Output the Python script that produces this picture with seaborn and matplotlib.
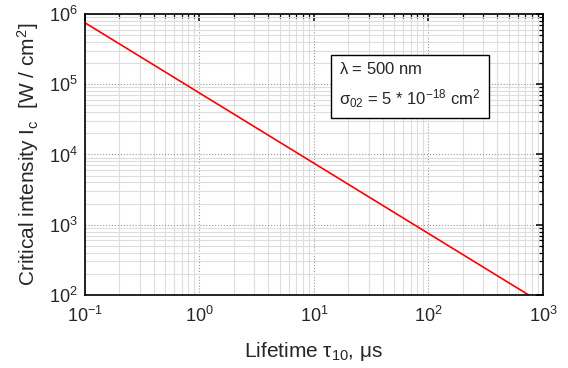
import matplotlib
matplotlib.use("Agg")
import matplotlib.pyplot as plt
import pandas as pd
import seaborn as sns
from matplotlib.ticker import LogLocator, NullFormatter

# valores (extremos de la recta en escala log-log)
tiempo_vida_us = [0.1, 1000.0]
intensidad_critica = [7.5e5, 75.0]

datos = pd.DataFrame({"tau": tiempo_vida_us, "ic": intensidad_critica})

sns.set_style("white")
plt.rcParams["font.family"] = ["Liberation Sans", "DejaVu Sans"]
plt.rcParams["mathtext.fontset"] = "custom"
plt.rcParams["mathtext.rm"] = "Liberation Sans"
plt.rcParams["mathtext.it"] = "Liberation Sans"

fig = plt.figure(figsize=(5.68, 3.68), dpi=100)
ax = fig.add_axes([0.1496, 0.1984, 0.8064, 0.7636])

sns.lineplot(data=datos, x="tau", y="ic", color="red", linewidth=1.2, ax=ax)

ax.set_xscale("log")
ax.set_yscale("log")
ax.set_xlim(0.1, 1000)
ax.set_ylim(100, 1e6)

ax.xaxis.set_minor_locator(LogLocator(base=10, subs=range(2, 10), numticks=20))
ax.yaxis.set_minor_locator(LogLocator(base=10, subs=range(2, 10), numticks=20))
ax.xaxis.set_minor_formatter(NullFormatter())
ax.yaxis.set_minor_formatter(NullFormatter())

ax.grid(which="minor", color="#dddddd", linestyle="-", linewidth=0.8)
ax.grid(which="major", color="#999999", linestyle=":", linewidth=0.8)
ax.set_axisbelow(True)

for lado in ax.spines.values():
    lado.set_color("black")
    lado.set_linewidth(1.2)

ax.tick_params(which="both", direction="in", top=True, right=True,
               color="black", labelsize=13)
ax.tick_params(axis="x", which="major", pad=8)
ax.tick_params(axis="y", which="major", pad=5)
ax.tick_params(which="major", length=5, width=1.1)
ax.tick_params(which="minor", length=3, width=0.9)

ax.set_xlabel(r"Lifetime $\tau_{10}$, $\mu$s", fontsize=15, labelpad=10)
ax.set_ylabel(r"Critical intensity I$_c$  [W / cm$^2$]", fontsize=15,
              labelpad=6)

ax.text(0.555, 0.747,
        "$\\lambda$ = 500 nm\n$\\sigma_{02}$ = 5 * 10$^{-18}$ cm$^2$",
        transform=ax.transAxes, fontsize=12, va="center", ha="left",
        linespacing=1.6,
        bbox=dict(boxstyle="square,pad=0.5", facecolor="white",
                  edgecolor="black", linewidth=1.0))

fig.savefig("out.png", dpi=100)
